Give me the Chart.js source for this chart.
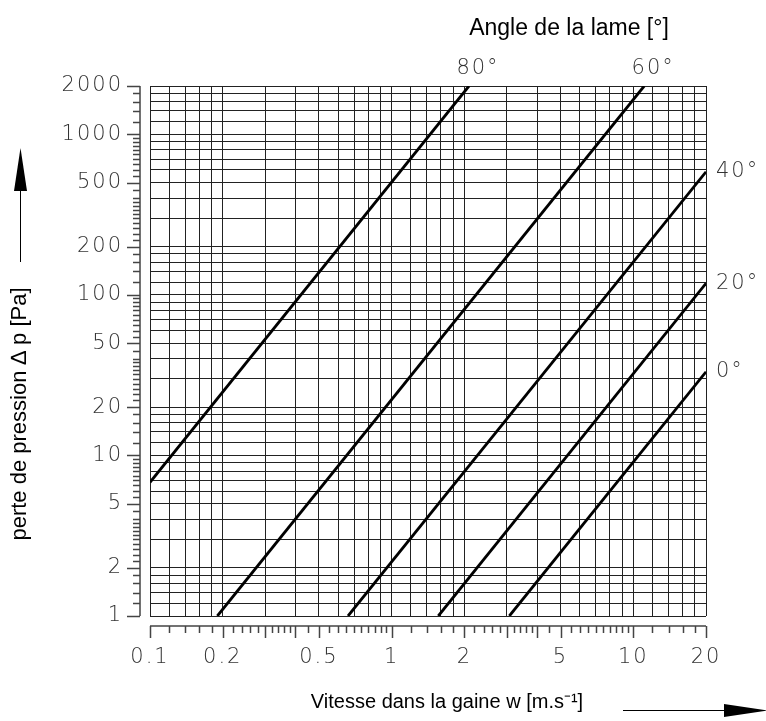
<!DOCTYPE html>
<html>
<head>
<meta charset="utf-8">
<script src="https://cdn.jsdelivr.net/npm/chart.js@4"></script>
<style>
  body { margin: 0; background: #fff; }
  #chart { display: block; }
</style>
</head>
<body>
<canvas id="chart" width="766" height="721"></canvas>
<script>
// blade angle lines: start and end points
const angleLabels = ['80°', '60°', '40°', '20°', '0°']
const startSpeed = [0.1, 0.19, 0.66, 1.56, 3.07]
const startLoss = [6.8, 1, 1, 1, 1]
const endSpeed = [2.09, 11.1, 20, 20, 20]
const endLoss = [2000, 2000, 584, 118, 33.2]

// labelled ticks
const xTickValues = [0.1, 0.2, 0.5, 1, 2, 5, 10, 20]
const xTickLabels = ['0.1', '0.2', '0.5', '1', '2', '5', '10', '20']
const yTickValues = [1, 2, 5, 10, 20, 50, 100, 200, 500, 1000, 2000]
const yTickLabels = ['1', '2', '5', '10', '20', '50', '100', '200', '500', '1000', '2000']

// grid lines
const xGrid = [0.1, 0.12, 0.14, 0.16, 0.18, 0.2, 0.3, 0.4, 0.5, 0.6, 0.7, 0.8, 0.9,
  1, 1.2, 1.4, 1.6, 1.8, 2, 3, 4, 5, 6, 7, 8, 9, 10, 12, 14, 16, 18, 20]
const yGrid = [1, 1.2, 1.4, 1.6, 1.8, 2, 3, 4, 5, 6, 7, 8, 9,
  10, 12, 14, 16, 18, 20, 30, 40, 50, 60, 70, 80, 90,
  100, 120, 140, 160, 180, 200, 300, 400, 500, 600, 700, 800, 900,
  1000, 1200, 1400, 1600, 1800, 2000]

// small marks on the offset axis lines
function steps(a, b, s) {
  const out = []
  for (let v = a; v <= b + s / 10; v += s) out.push(Math.round(v * 1000) / 1000)
  return out
}
const xAxisMarks = [].concat(steps(0.1, 0.4, 0.02), steps(0.45, 1, 0.05),
  steps(1.2, 4, 0.2), steps(4.5, 10, 0.5), steps(12, 20, 2))
const yAxisMarks = [].concat(
  steps(1, 4, 0.2), steps(4.5, 10, 0.5),
  steps(12, 40, 2), steps(45, 100, 5),
  steps(120, 400, 20), steps(450, 1000, 50),
  steps(1200, 2000, 200))
const xLongMarks = xTickValues.concat([0.3, 0.4, 3, 4])

const tickFont = { family: "'DejaVu Sans', sans-serif", size: 21, weight: '200' }

const datasets = angleLabels.map((lab, i) => ({
  label: lab,
  data: [{ x: startSpeed[i], y: startLoss[i] }, { x: endSpeed[i], y: endLoss[i] }],
  borderColor: '#000',
  borderWidth: 2.8,
  pointRadius: 0,
  fill: false
}))

// offset axis lines with tick marks, arrows and titles
const decorPlugin = {
  id: 'decor',
  beforeDraw(chart) {
    chart.ctx.letterSpacing = '2px'
  },
  afterDraw(chart) {
    const ctx = chart.ctx
    const xs = chart.scales.x
    const ys = chart.scales.y
    const area = chart.chartArea
    ctx.save()
    ctx.strokeStyle = '#444'
    ctx.lineWidth = 1.5

    const ax = area.left - 10
    ctx.beginPath()
    ctx.moveTo(ax, ys.getPixelForValue(1))
    ctx.lineTo(ax, ys.getPixelForValue(2000))
    yAxisMarks.forEach(v => {
      const y = Math.round(ys.getPixelForValue(v)) + 0.5
      const len = yTickValues.includes(v) ? 13 : 7
      ctx.moveTo(ax, y)
      ctx.lineTo(ax - len, y)
    })
    ctx.stroke()

    const ay = area.bottom + 10
    ctx.beginPath()
    ctx.moveTo(xs.getPixelForValue(0.1), ay)
    ctx.lineTo(xs.getPixelForValue(20), ay)
    xAxisMarks.forEach(v => {
      const x = Math.round(xs.getPixelForValue(v)) + 0.5
      const len = xLongMarks.includes(v) ? 12 : 7
      ctx.moveTo(x, ay)
      ctx.lineTo(x, ay + len)
    })
    ctx.stroke()

    // angle labels at the end of each line
    ctx.fillStyle = '#333'
    ctx.font = '200 21px "DejaVu Sans", sans-serif'
    ctx.textBaseline = 'middle'
    chart.data.datasets.forEach((ds, i) => {
      const pt = chart.getDatasetMeta(i).data[1]
      if (endLoss[i] >= 2000) {
        ctx.textAlign = 'center'
        ctx.fillText(ds.label, pt.x + 9, pt.y - 17)
      } else {
        ctx.textAlign = 'left'
        ctx.fillText(ds.label, pt.x + 10, pt.y)
      }
    })

    // titles
    ctx.letterSpacing = '0px'
    ctx.fillStyle = '#000'
    ctx.textAlign = 'center'
    ctx.font = "23px 'Liberation Sans', Arial, sans-serif"
    ctx.fillText('Angle de la lame [°]', 569, 29)
    ctx.font = "20px 'Liberation Sans', Arial, sans-serif"
    ctx.fillText('Vitesse dans la gaine w [m.s⁻¹]', 447, 702)
    ctx.save()
    ctx.translate(20, 414)
    ctx.rotate(-Math.PI / 2)
    ctx.font = "22px 'Liberation Sans', Arial, sans-serif"
    ctx.fillText('perte de pression ∆ p [Pa]', 0, 0)
    ctx.restore()

    // arrows
    ctx.strokeStyle = '#000'
    ctx.lineWidth = 1
    ctx.beginPath()
    ctx.moveTo(20.5, 262)
    ctx.lineTo(20.5, 190)
    ctx.moveTo(623, 710.5)
    ctx.lineTo(726, 710.5)
    ctx.stroke()
    ctx.fillStyle = '#000'
    ctx.beginPath()
    ctx.moveTo(20.5, 148)
    ctx.lineTo(14, 191)
    ctx.lineTo(27, 191)
    ctx.closePath()
    ctx.fill()
    ctx.beginPath()
    ctx.moveTo(767, 710.5)
    ctx.lineTo(724, 704)
    ctx.lineTo(724, 717)
    ctx.closePath()
    ctx.fill()
    ctx.restore()
  }
}

new Chart(document.getElementById('chart'), {
  type: 'line',
  data: { datasets: datasets },
  options: {
    responsive: false,
    animation: false,
    devicePixelRatio: 1,
    layout: { padding: { top: 86, right: 60, left: 0, bottom: 0 } },
    plugins: { legend: { display: false }, tooltip: { enabled: false } },
    scales: {
      x: {
        type: 'logarithmic',
        min: 0.1,
        max: 20,
        afterBuildTicks: scale => { scale.ticks = xGrid.map(v => ({ value: v })) },
        afterFit: scale => { scale.height = 105 },
        grid: { color: '#222', lineWidth: 1, drawTicks: false },
        border: { display: false },
        ticks: {
          autoSkip: false,
          maxRotation: 0,
          padding: 29,
          color: '#333',
          font: tickFont,
          callback: v => {
            const k = xTickValues.indexOf(v)
            return k >= 0 ? xTickLabels[k] : ''
          }
        }
      },
      y: {
        type: 'logarithmic',
        min: 1,
        max: 2000,
        afterBuildTicks: scale => { scale.ticks = yGrid.map(v => ({ value: v })) },
        afterFit: scale => { scale.width = 150 },
        grid: { color: '#222', lineWidth: 1, drawTicks: false },
        border: { display: false },
        ticks: {
          autoSkip: false,
          padding: 27,
          color: '#333',
          font: tickFont,
          callback: v => {
            const k = yTickValues.indexOf(v)
            return k >= 0 ? yTickLabels[k] : ''
          }
        }
      }
    }
  },
  plugins: [decorPlugin]
})
</script>
</body>
</html>
